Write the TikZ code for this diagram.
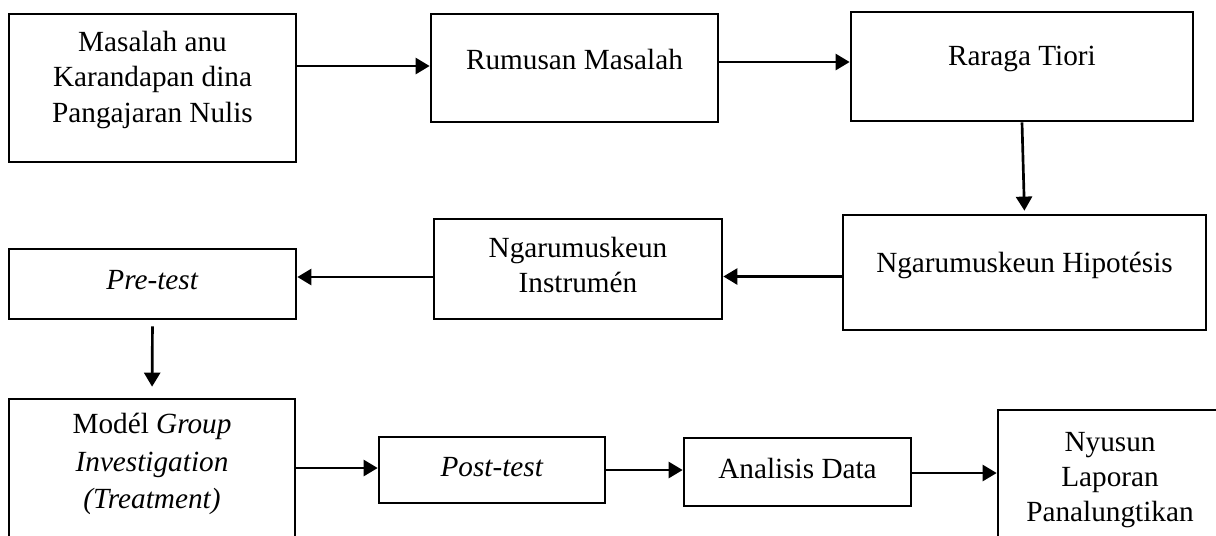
\documentclass[tikz,border=0pt]{standalone}
\usepackage{fontspec}
\setmainfont{Liberation Serif}
\usetikzlibrary{arrows.meta}

\newcommand{\px}{0.025cm}

\tikzset{
  kotak/.style={draw, line width=1.9pt, inner sep=0pt},
  tulisan/.style={align=center, font=\fontsize{20.8}{24.9}\selectfont},
  panah/.style={-{Triangle[length=10pt,width=11.4pt]}, line width=1.9pt},
}

\begin{document}
\begin{tikzpicture}[x=0.025cm, y=-0.025cm]
        \useasboundingbox (0,0) rectangle (1216,535);
        \clip (0,0) rectangle (1216,535);
        % baris kahiji
        \node[kotak, minimum width=287*\px, minimum height=148*\px,
              label={[tulisan, yshift=8*\px]center:{Masalah anu\\Karandapan dina\\Pangajaran Nulis}}] (masalah) at (152.5,88) {};
        \node[kotak, minimum width=287*\px, minimum height=108*\px,
              label={[tulisan, yshift=9*\px]center:{Rumusan Masalah}}] (rumusan) at (574.5,68) {};
        \node[kotak, minimum width=342*\px, minimum height=109*\px,
              label={[tulisan, yshift=8*\px]center:{Raraga Tiori}}] (raraga) at (1022,66.5) {};
        % baris kadua
        \node[kotak, minimum width=363*\px, minimum height=115*\px,
              label={[tulisan, yshift=7*\px]center:{Ngarumuskeun Hipotésis}}] (hipotesis) at (1024.5,272.5) {};
        \node[kotak, minimum width=288*\px, minimum height=100*\px,
              label={[tulisan, yshift=4*\px]center:{Ngarumuskeun\\Instrumén}}] (instrumen) at (578,269) {};
        \node[kotak, minimum width=287*\px, minimum height=70*\px,
              label={[tulisan, yshift=4*\px]center:{\textit{Pre-test}}}] (pretes) at (152.5,284) {};
        % baris katilu
        \node[kotak, minimum width=286*\px, minimum height=146*\px,
              label={[tulisan, font=\fontsize{20.8}{26.5}\selectfont, yshift=8*\px]center:{Modél \textit{Group}\\\textit{Investigation}\\\textit{(Treatment)}}}] (model) at (152,472) {};
        \node[kotak, minimum width=226*\px, minimum height=66*\px,
              label={[tulisan, yshift=3*\px]center:{\textit{Post-test}}}] (postes) at (492,470) {};
        \node[kotak, minimum width=227*\px, minimum height=68*\px,
              label={[tulisan, yshift=4*\px]center:{Analisis Data}}] (analisis) at (797.5,472) {};
        \node[kotak, minimum width=224*\px, minimum height=146*\px,
              label={[tulisan, yshift=3*\px]center:{Nyusun\\Laporan\\Panalungtikan}}] (nyusun) at (1110,483) {};
        % panah
        \draw[panah] (masalah.east |- 0,66) -- (rumusan.west |- 0,66);
        \draw[panah] ([shift={(0,-6)}]rumusan.east) -- ([shift={(0,-6)}]rumusan.east -| raraga.west);
        \draw[panah, shorten >=3*\px] (raraga.south) -- (hipotesis.north);
        \draw[panah] ([shift={(0,4)}]hipotesis.west) -- ([shift={(0,4)}]hipotesis.west -| instrumen.east);
        \draw[panah] ([shift={(0,8)}]instrumen.west) -- ([shift={(0,-7)}]pretes.east);
        \draw[panah, shorten <=6*\px, shorten >=11*\px] (pretes.south) -- (model.north);
        \draw[panah] (model.east |- 0,468) -- (postes.west |- 0,468);
        \draw[panah] (postes.east) -- (analisis.west |- postes.east);
        \draw[panah] ([shift={(0,1)}]analisis.east) -- ([shift={(0,1)}]analisis.east -| nyusun.west);
    \end{tikzpicture}
\end{document}
